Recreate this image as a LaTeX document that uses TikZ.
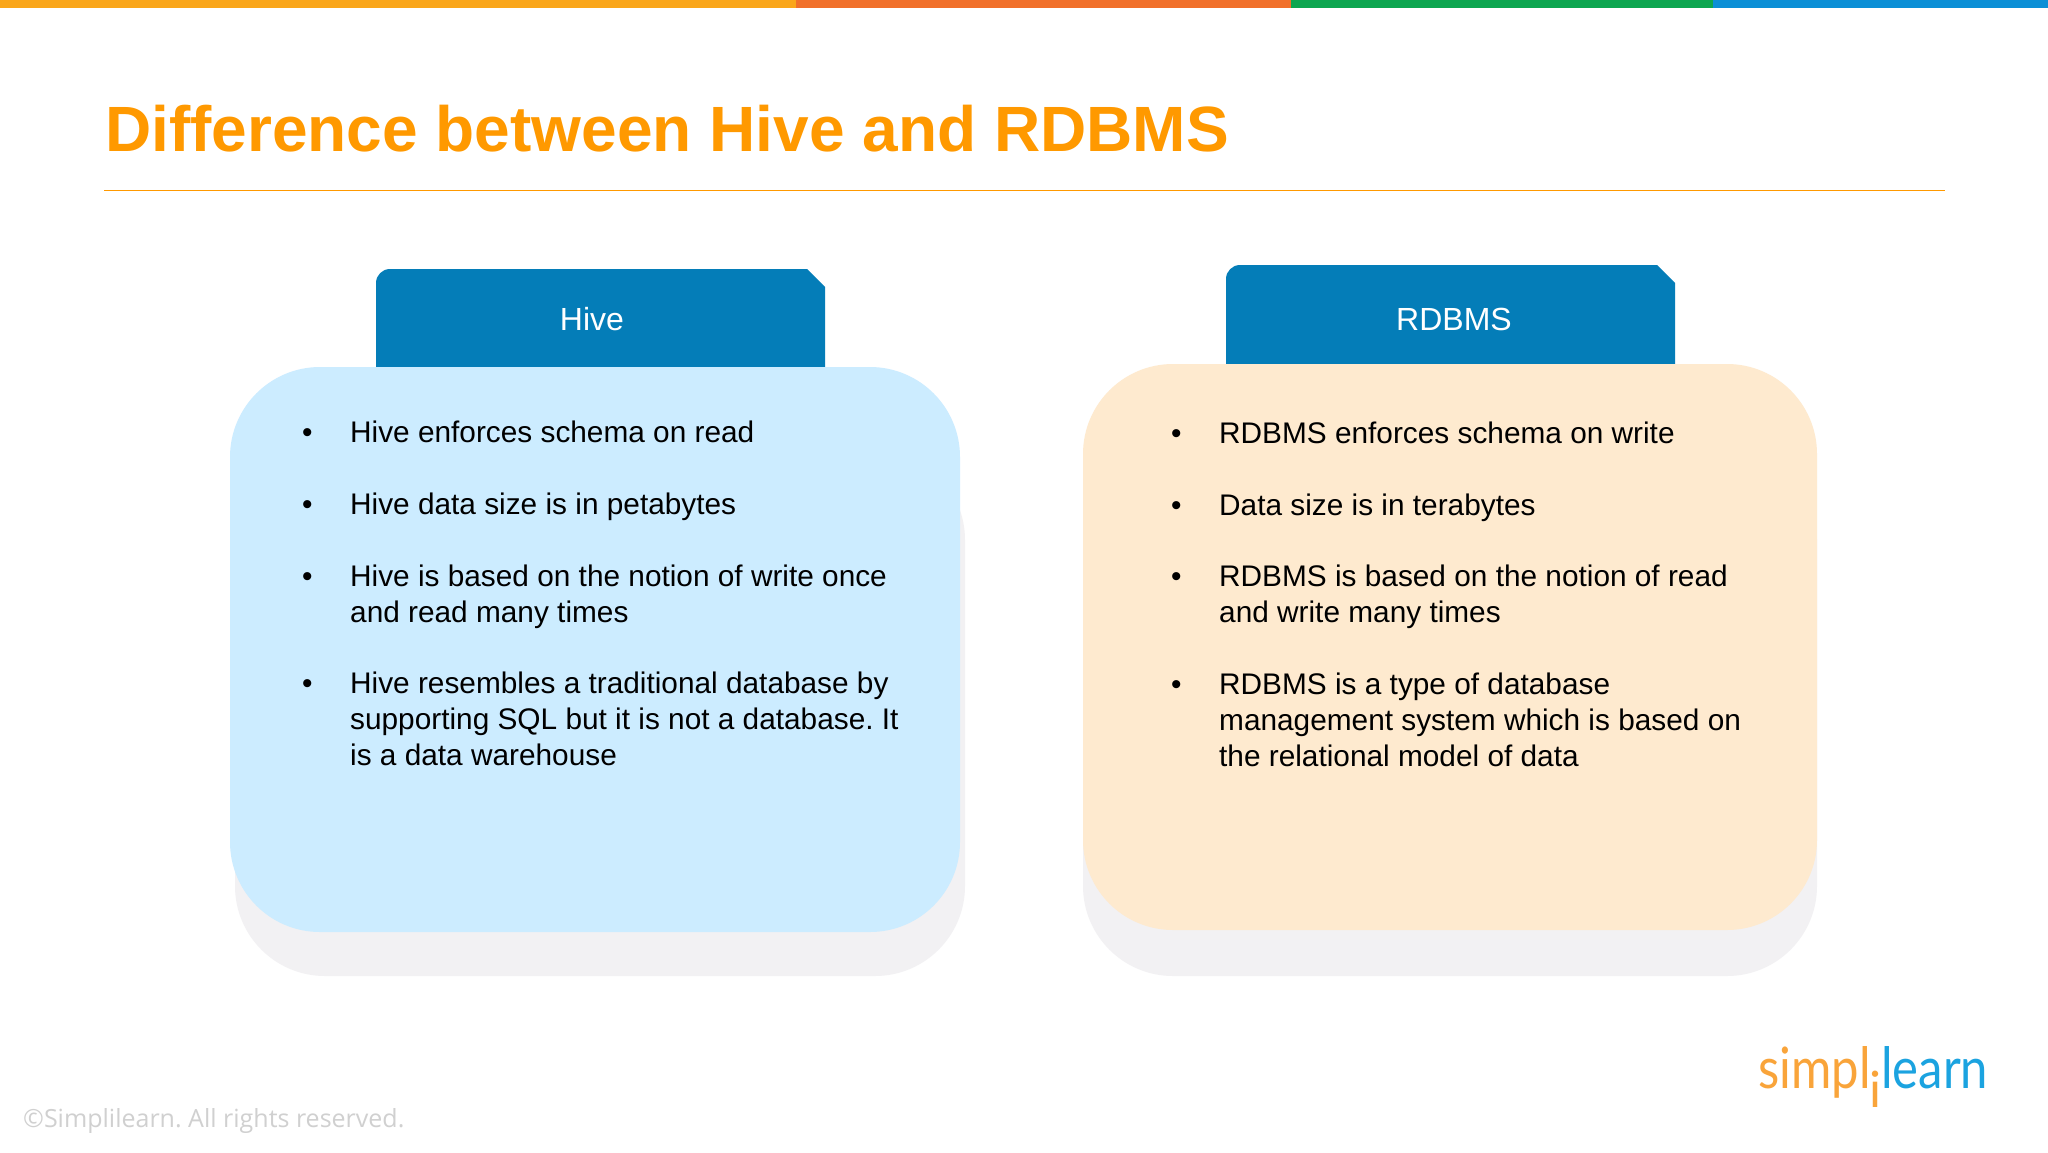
\documentclass[tikz,border=0pt]{standalone}
\usepackage{fontspec}
\setmainfont{Liberation Sans}
\newfontfamily\notefont{Open Sans}
\newfontfamily\logofont{Lato}
\definecolor{baryellow}{HTML}{FAA61A}
\definecolor{barorange}{HTML}{F1702A}
\definecolor{bargreen}{HTML}{0DA650}
\definecolor{barblue}{HTML}{0B8FD6}
\definecolor{titleorange}{HTML}{FF9900}
\definecolor{tabblue}{HTML}{047DB8}
\definecolor{hivefill}{HTML}{CCECFF}
\definecolor{rdbmsfill}{HTML}{FEEACF}
\definecolor{shadowgrey}{HTML}{F2F1F3}
\definecolor{notegrey}{HTML}{D0D0D0}
\definecolor{logoorange}{HTML}{F9A43A}
\definecolor{logoblue}{HTML}{1BA3E0}

\begin{document}
\frenchspacing
\begin{tikzpicture}[x=1pt,y=1pt]
        \tikzstyle{every node}+=[inner sep=0pt]
        \tikzstyle{bodytext}=[anchor=base west,align=left,font=\fontsize{29.8}{36}\selectfont]
        \tikzstyle{tabtext}=[white,font=\fontsize{32}{36}\selectfont]
        \tikzstyle{logotext}=[anchor=base west,xscale=0.86,transform shape,font=\logofont\fontsize{57}{57}\selectfont]
        \useasboundingbox (0,0) rectangle (2048,-1152);
        \fill [white] (0,0) rectangle (2048,-1152);
        \fill [baryellow] (0,0) rectangle (796,-8);
        \fill [barorange] (796,0) rectangle (1291,-8);
        \fill [bargreen] (1291,0) rectangle (1713,-8);
        \fill [barblue] (1713,0) rectangle (2048,-8);
        \draw (105,-151) node [anchor=base west,titleorange,font=\fontsize{64}{64}\selectfont\bfseries] (title) {Difference between Hive and RDBMS};
        \draw [titleorange] (104,-190) -- (1945,-190);
        \fill [shadowgrey,rounded corners=90] (235,-450) rectangle (965,-976);
        \fill [tabblue] (376,-367) -- (376,-283) arc (180:90:14) -- (807,-269) -- (825,-287) -- (825,-367) -- cycle;
        \fill [hivefill,rounded corners=90] (230,-367) rectangle (960,-932);
        \draw (592,-319) node [tabtext] (hivetab) {Hive};
        \draw (302,-442) node [bodytext] (hivedot1) {•};
        \draw (350,-442) node [bodytext] (hiveitem1) {Hive enforces schema on read};
        \draw (302,-514) node [bodytext] (hivedot2) {•};
        \draw (350,-514) node [bodytext] (hiveitem2) {Hive data size is in petabytes};
        \draw (302,-586) node [bodytext] (hivedot3) {•};
        \draw (350,-622) node [bodytext] (hiveitem3) {Hive is based on the notion of write once\\and read many times};
        \draw (302,-693) node [bodytext] (hivedot4) {•};
        \draw (350,-765) node [bodytext] (hiveitem4) {Hive resembles a traditional database by\\supporting SQL but it is not a database. It\\is a data warehouse};
        \fill [shadowgrey,rounded corners=90] (1083,-450) rectangle (1817,-976);
        \fill [tabblue] (1226,-364) -- (1226,-279) arc (180:90:14) -- (1657,-265) -- (1675,-283) -- (1675,-364) -- cycle;
        \fill [rdbmsfill,rounded corners=90] (1083,-364) rectangle (1817,-930);
        \draw (1454,-319) node [tabtext] (rdbmstab) {RDBMS};
        \draw (1171,-443) node [bodytext] (rdbmsdot1) {•};
        \draw (1219,-443) node [bodytext] (rdbmsitem1) {RDBMS enforces schema on write};
        \draw (1171,-515) node [bodytext] (rdbmsdot2) {•};
        \draw (1219,-515) node [bodytext] (rdbmsitem2) {Data size is in terabytes};
        \draw (1171,-586) node [bodytext] (rdbmsdot3) {•};
        \draw (1219,-622) node [bodytext] (rdbmsitem3) {RDBMS is based on the notion of read\\and write many times};
        \draw (1171,-694) node [bodytext] (rdbmsdot4) {•};
        \draw (1219,-766) node [bodytext] (rdbmsitem4) {RDBMS is a type of database\\management system which is based on\\the relational model of data};
        \draw (23,-1127) node [anchor=base west,notegrey,font=\notefont\fontsize{25}{25}\selectfont] (note) {©Simplilearn. All rights reserved.};
        \draw (1758,-1088) node [logotext,logoorange] (logosimpl) {simpl};
        \draw (1869,-1107) node [anchor=base west,logoorange,font=\logofont\fontsize{50}{50}\selectfont] (logoi) {i};
        \draw (1881,-1088) node [logotext,logoblue] (logolearn) {learn};
\end{tikzpicture}
\end{document}
